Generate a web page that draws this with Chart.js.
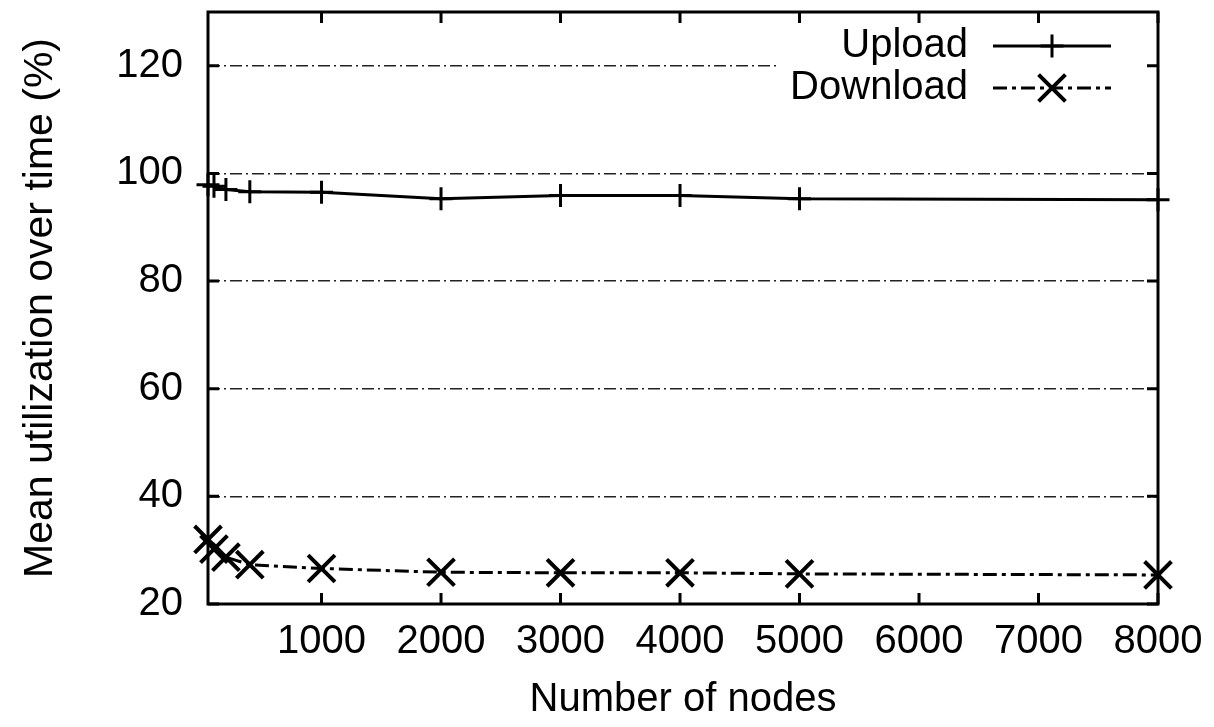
<!DOCTYPE html>
<html>
<head>
<meta charset="utf-8">
<title>Mean utilization over time</title>
<script src="https://cdn.jsdelivr.net/npm/chart.js@4/dist/chart.umd.min.js"></script>
<style>
  body { margin: 0; background: #fff; }
  canvas { display: block; }
</style>
</head>
<body>
<canvas id="grafica" width="1214" height="727"></canvas>
<script>
// datos
var nodes = [50, 100, 200, 400, 1000, 2000, 3000, 4000, 5000, 8000];
var upload = [97.9, 97.6, 97.0, 96.6, 96.5, 95.3, 95.9, 95.9, 95.3, 95.1];
var download = [32.0, 30.2, 28.7, 27.3, 26.6, 25.9, 25.8, 25.8, 25.6, 25.4];
var xTicks = [1000, 2000, 3000, 4000, 5000, 6000, 7000, 8000];
var yTicks = [20, 40, 60, 80, 100, 120];
var seriesNames = ["Upload", "Download"];

var FONT = '"Liberation Sans", Arial, Helvetica, sans-serif';
Chart.defaults.font.family = FONT;
Chart.defaults.color = "#000";

function toPoints(xs, ys) {
    return xs.map(function (x, i) { return { x: x, y: ys[i] }; });
}

function drawMarker(ctx, style, x, y, r) {
    ctx.beginPath();
    if (style === "crossRot") {
        var d = r * Math.SQRT1_2;
        ctx.moveTo(x - d, y - d); ctx.lineTo(x + d, y + d);
        ctx.moveTo(x + d, y - d); ctx.lineTo(x - d, y + d);
    } else {
        ctx.moveTo(x - r, y); ctx.lineTo(x + r, y);
        ctx.moveTo(x, y - r); ctx.lineTo(x, y + r);
    }
    ctx.stroke();
}

// quita el relleno extra que Chart.js reserva para las etiquetas
function sinRelleno(s) {
    s.paddingTop = 0;
    s.paddingBottom = 0;
    s.paddingLeft = 0;
    s.paddingRight = 0;
}

// leyenda a la derecha, marco y marcas de los ejes hacia dentro
var marcoPlugin = {
    id: "marco",
    afterDatasetsDraw: function (chart) {
        var ctx = chart.ctx;
        var a = chart.chartArea;
        var xs = chart.scales.x, ys = chart.scales.y;

        ctx.save();
        ctx.fillStyle = "#fff";
        ctx.fillRect(776, 16, 380, 94);
        ctx.font = "40px " + FONT;
        ctx.textAlign = "right";
        ctx.textBaseline = "middle";
        chart.data.datasets.forEach(function (ds, i) {
            var y = 46 + i * 42;
            ctx.fillStyle = "#000";
            ctx.fillText(ds.label, 968, y);
            ctx.strokeStyle = "#000";
            ctx.lineWidth = ds.borderWidth;
            ctx.setLineDash(ds.borderDash || []);
            ctx.beginPath();
            ctx.moveTo(993, y);
            ctx.lineTo(1111, y);
            ctx.stroke();
            ctx.setLineDash([]);
            ctx.lineWidth = ds.pointBorderWidth;
            drawMarker(ctx, ds.pointStyle, 1052, y, ds.pointRadius);
        });

        ctx.strokeStyle = "#000";
        ctx.lineWidth = 3;
        ctx.strokeRect(a.left, a.top, a.right - a.left, a.bottom - a.top);
        var len = 11;
        ctx.beginPath();
        xTicks.forEach(function (v) {
            var px = xs.getPixelForValue(v);
            ctx.moveTo(px, a.bottom); ctx.lineTo(px, a.bottom - len);
            ctx.moveTo(px, a.top); ctx.lineTo(px, a.top + len);
        });
        yTicks.forEach(function (v) {
            var py = ys.getPixelForValue(v);
            ctx.moveTo(a.left, py); ctx.lineTo(a.left + len, py);
            ctx.moveTo(a.right, py); ctx.lineTo(a.right - len, py);
        });
        ctx.stroke();
        ctx.restore();
    }
};

var ctx = document.getElementById("grafica").getContext("2d");
var chart = new Chart(ctx, {
    type: "line",
    data: {
        datasets: [{
            label: seriesNames[0],
            data: toPoints(nodes, upload),
            borderColor: "#000",
            backgroundColor: "#000",
            borderWidth: 3,
            pointStyle: "cross",
            pointRadius: 11.5,
            pointBorderWidth: 3,
            pointBorderColor: "#000",
            tension: 0,
            fill: false,
            clip: false
        }, {
            label: seriesNames[1],
            data: toPoints(nodes, download),
            borderColor: "#000",
            backgroundColor: "#000",
            borderWidth: 3,
            borderDash: [14, 5, 4, 5],
            pointStyle: "crossRot",
            pointRadius: 19,
            pointBorderWidth: 4,
            pointBorderColor: "#000",
            tension: 0,
            fill: false,
            clip: false
        }]
    },
    options: {
        responsive: false,
        animation: false,
        events: [],
        layout: { autoPadding: false, padding: { left: 0, right: 56, top: 12, bottom: 0 } },
        plugins: {
            legend: { display: false },
            tooltip: { enabled: false }
        },
        scales: {
            x: {
                type: "linear",
                min: 50,
                max: 8000,
                afterBuildTicks: function (s) {
                    s.ticks = xTicks.map(function (v) { return { value: v }; });
                },
                afterFit: function (s) { s.height = 123; sinRelleno(s); },
                grid: { display: false, drawTicks: false },
                border: { display: false },
                ticks: {
                    padding: 14,
                    autoSkip: false,
                    maxRotation: 0,
                    color: "#000",
                    font: { size: 40 },
                    callback: function (v) { return String(v); }
                },
                title: {
                    display: true,
                    text: "Number of nodes",
                    color: "#000",
                    font: { size: 40 },
                    padding: { top: 0, bottom: 3 }
                }
            },
            y: {
                min: 20,
                max: 130,
                afterBuildTicks: function (s) {
                    s.ticks = yTicks.map(function (v) { return { value: v }; });
                },
                afterFit: function (s) { s.width = 208; sinRelleno(s); },
                grid: { color: "#222", lineWidth: 1.5, drawTicks: false },
                border: { display: false, dash: [12, 4, 2, 4] },
                ticks: {
                    padding: 25,
                    color: "#000",
                    font: { size: 40 },
                    callback: function (v) { return String(v); }
                },
                title: {
                    display: true,
                    text: "Mean utilization over time (%)",
                    color: "#000",
                    font: { size: 41 },
                    padding: { top: 16, bottom: 0 }
                }
            }
        }
    },
    plugins: [marcoPlugin]
});
</script>
</body>
</html>
